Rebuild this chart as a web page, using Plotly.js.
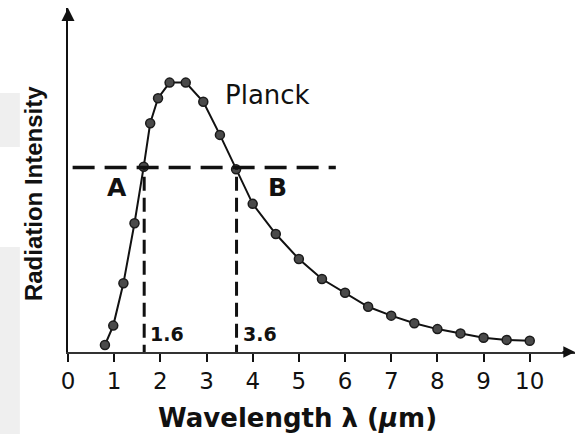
<!DOCTYPE html>
<html>
<head>
<meta charset="utf-8">
<script src="https://cdn.plot.ly/plotly-3.0.1.min.js"></script>
<style>html,body{margin:0;padding:0;background:#fff;}#chart{width:584px;height:434px;}</style>
</head>
<body>
<div id="chart"></div>
<script>
// Wavelength (µm) and radiation intensity (arbitrary units, peak = 100)
const wavelength = [0.80, 0.98, 1.20, 1.44, 1.64, 1.78, 1.95, 2.20, 2.55, 2.93, 3.29, 3.64,
                    4.0, 4.5, 5.0, 5.5, 6.0, 6.5, 7.0, 7.5, 8.0, 8.5, 9.0, 9.5, 10.0];
const intensity  = [2.6, 9.8, 25.5, 47.8, 68.8, 84.9, 94.2, 100, 100, 92.9, 80.6, 67.8,
                    55.0, 43.8, 34.5, 27.1, 22.0, 16.8, 13.5, 10.7, 8.5, 6.9, 5.3, 4.5, 4.2];
const tickVals   = [0, 1, 2, 3, 4, 5, 6, 7, 8, 9, 10];
const tickText   = ['0', '1', '2', '3', '4', '5', '6', '7', '8', '9', '10'];
const xTitle     = '<b>Wavelength λ (<i>μ</i>m)</b>';
const yTitle     = '<b>Radiation Intensity</b>';
const halfLevel  = 68.5;          // horizontal dashed line level
const halfSpan   = [0.1, 5.8];    // its x extent
const crossX     = [1.65, 3.65];  // vertical dashed lines
const crossText  = ['1.6', '3.6'];
const pointNames = ['A', 'B'];
const pointPos   = [[1.06, 60.9], [4.53, 60.9]];
const curveName  = 'Planck';
const curveLabelPos = [4.33, 95.4];

const xMax = 10.98, yMax = 127.7;
const SANS = 'DejaVu Sans, Verdana, sans-serif';

const traces = [{
  x: wavelength, y: intensity, type: 'scatter', mode: 'lines+markers',
  line: {color: '#111', width: 2},
  marker: {size: 9, color: '#4a4a4a', line: {color: '#1a1a1a', width: 1.5}},
  cliponaxis: false, hoverinfo: 'skip'
}];

const shapes = [
  {type: 'rect', xref: 'paper', yref: 'paper', x0: -0.134, x1: -0.095, y0: 0.596, y1: 0.753,
   fillcolor: '#efefef', line: {width: 0}, layer: 'below'},
  {type: 'rect', xref: 'paper', yref: 'paper', x0: -0.134, x1: -0.095, y0: -0.24, y1: 0.305,
   fillcolor: '#efefef', line: {width: 0}, layer: 'below'},
  {type: 'line', xref: 'x', yref: 'y', x0: halfSpan[0], x1: halfSpan[1], y0: halfLevel, y1: halfLevel,
   line: {color: '#111', width: 3.5, dash: '22px,10px'}}
];
crossX.forEach(function (cx) {
  shapes.push({type: 'line', xref: 'x', yref: 'y', x0: cx, x1: cx, y0: -2.5, y1: halfLevel,
    line: {color: '#111', width: 3, dash: '14px,7px'}});
});

const annotations = [
  {x: xMax, y: 0, xref: 'x', yref: 'y', ax: -14, ay: 0, axref: 'pixel', ayref: 'pixel',
   showarrow: true, arrowhead: 2, arrowsize: 1.3, arrowwidth: 1.8, arrowcolor: '#111', text: ''},
  {x: 0, y: yMax, xref: 'x', yref: 'y', ax: 0, ay: 14, showarrow: true, arrowhead: 2,
   arrowsize: 1.3, arrowwidth: 2, arrowcolor: '#111', text: ''},
  {x: curveLabelPos[0], y: curveLabelPos[1], xref: 'x', yref: 'y', text: curveName, showarrow: false,
   font: {family: SANS, size: 26, color: '#111'}},
  {x: 0.4536, y: -0.192, xref: 'paper', yref: 'paper', text: xTitle, showarrow: false,
   xanchor: 'center', yanchor: 'middle', font: {family: SANS, size: 26, color: '#111'}},
  {x: -0.069, y: 0.459, xref: 'paper', yref: 'paper', text: yTitle, showarrow: false, textangle: -90,
   xanchor: 'center', yanchor: 'middle', font: {family: 'Liberation Sans, Arial, sans-serif', size: 24, color: '#111'}}
];
pointNames.forEach(function (n, i) {
  annotations.push({x: pointPos[i][0], y: pointPos[i][1], xref: 'x', yref: 'y', text: '<b>' + n + '</b>',
    showarrow: false, font: {family: SANS, size: 25, color: '#111'}});
});
crossX.forEach(function (cx, i) {
  annotations.push({x: cx, y: 6.7, xref: 'x', yref: 'y', text: '<b>' + crossText[i] + '</b>', xanchor: 'left',
    xshift: 4, showarrow: false, font: {family: SANS, size: 19, color: '#111'}});
});

const layout = {
  width: 584, height: 434,
  margin: {l: 68, r: 9, t: 8, b: 82},
  paper_bgcolor: '#fff', plot_bgcolor: '#fff',
  showlegend: false,
  xaxis: {
    range: [0, xMax], showgrid: false, zeroline: false,
    showline: true, linecolor: '#333', linewidth: 1.5,
    tickmode: 'array', tickvals: tickVals, ticktext: tickText,
    ticks: 'outside', ticklen: 8, tickwidth: 2, tickcolor: '#111',
    tickfont: {family: SANS, size: 23, color: '#111'}
  },
  yaxis: {
    range: [0, yMax], showgrid: false, zeroline: false,
    showline: true, linecolor: '#111', linewidth: 2,
    showticklabels: false, ticks: ''
  },
  shapes: shapes,
  annotations: annotations
};

Plotly.newPlot('chart', traces, layout, {displayModeBar: false, staticPlot: true});
</script>
</body>
</html>
